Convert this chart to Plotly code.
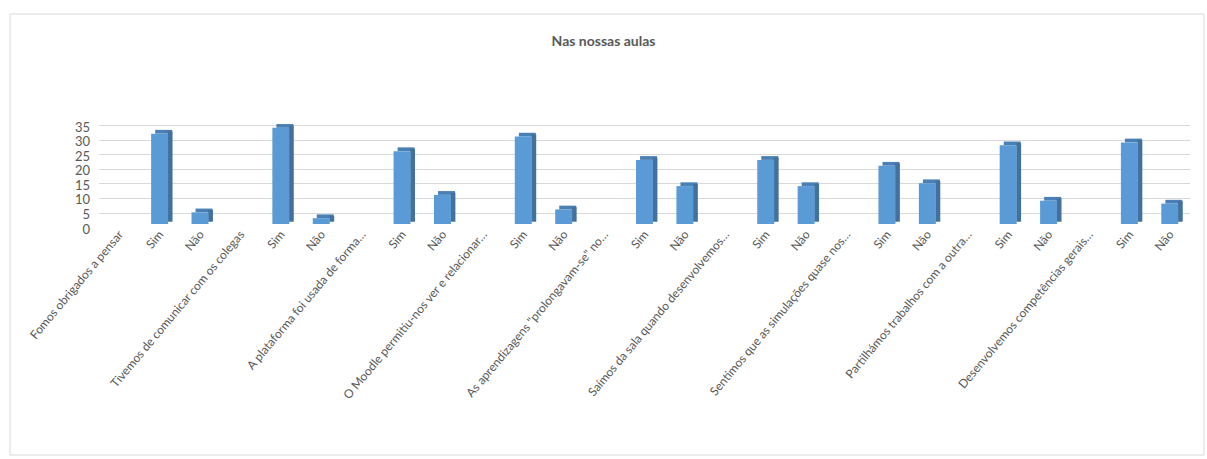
import plotly.graph_objects as go

questions = [
    "Fomos obrigados a pensar",
    "Tivemos de comunicar com os colegas",
    "A plataforma foi usada de forma…",
    "O Moodle permitiu-nos ver e relacionar…",
    "As aprendizagens \"prolongavam-se\" no…",
    "Saímos da sala quando desenvolvemos…",
    "Sentimos que as simulações quase nos…",
    "Partilhámos trabalhos com a outra…",
    "Desenvolvemos competências gerais…",
]
sim = [31, 33, 25, 30, 22, 22, 20, 27, 28]
nao = [4, 2, 10, 5, 13, 13, 14, 8, 7]
y_ticks = [0, 5, 10, 15, 20, 25, 30, 35]

labels, values = [], []
for q, s, n in zip(questions, sim, nao):
    labels += [q, "Sim", "Não"]
    values += [None, s, n]
xs = list(range(len(labels)))

FRONT = "#5B9BD5"
SIDE = "#41719C"
TOP = "#4A80B5"
W = 0.42
DEPTH = 1.3

fig = go.Figure()
# top face
fig.add_trace(go.Bar(x=xs, y=[DEPTH if v is not None else None for v in values],
                     base=[v if v is not None else 0 for v in values],
                     width=W, offset=-W / 2 + 0.1, marker_color=TOP,
                     marker_line_width=0, hoverinfo="skip", showlegend=False))
# side face
fig.add_trace(go.Bar(x=xs, y=values, base=DEPTH * 0.6,
                     width=0.12, offset=W / 2 - 0.01, marker_color=SIDE,
                     marker_line_width=0, hoverinfo="skip", showlegend=False))
# front face
fig.add_trace(go.Bar(x=xs, y=values, width=W, offset=-W / 2,
                     marker_color=FRONT, marker_line_width=0, showlegend=False))

# back-wall gridlines (3D look): same scale, shifted up
fig.add_trace(go.Scatter(x=[None], y=[None], yaxis="y2", showlegend=False, hoverinfo="skip"))

PLOT_TOP = 122
PLOT_BOT = 224
H = PLOT_BOT - PLOT_TOP
UNIT = H / 35.0
SHIFT = 11 / UNIT

fig.update_layout(
    width=1207, height=459,
    barmode="overlay",
    paper_bgcolor="white", plot_bgcolor="rgba(0,0,0,0)",
    margin=dict(l=99, r=17, t=PLOT_TOP, b=459 - PLOT_BOT),
    font=dict(family="Lato, Open Sans, sans-serif", color="#595959"),
    title=dict(text="<b>Nas nossas aulas</b>", x=0.5, xanchor="center", y=0.91, yanchor="middle",
               font=dict(size=14, color="#595959", family="Lato, Open Sans, sans-serif")),
    xaxis=dict(tickmode="array", tickvals=xs, ticktext=labels, tickangle=-50,
               range=[-0.5, len(labels) - 0.5], showgrid=False, zeroline=False,
               showline=False, ticks="", tickfont=dict(size=12, color="#595959")),
    yaxis=dict(range=[0, 35], tickvals=y_ticks, showgrid=False,
               zeroline=False, showline=False,
               ticks="", tickfont=dict(size=13, color="#595959"), ticklabelstandoff=8,
               ticklabelshift=5),
    yaxis2=dict(range=[-SHIFT, 35 - SHIFT], tickvals=y_ticks, overlaying="y",
                showticklabels=False, showgrid=True, gridcolor="#D9D9D9", gridwidth=1,
                zeroline=False, showline=False, ticks="", layer="below traces"),
    shapes=[dict(type="rect", xref="paper", yref="paper",
                 x0=-89 / 1091, x1=1 + 14 / 1091, y0=-(459 - PLOT_BOT - 4) / H,
                 y1=1 + (PLOT_TOP - 14) / H,
                 line=dict(color="#D9D9D9", width=1), fillcolor="rgba(0,0,0,0)",
                 layer="below")],
)

fig.write_html("out.html")
